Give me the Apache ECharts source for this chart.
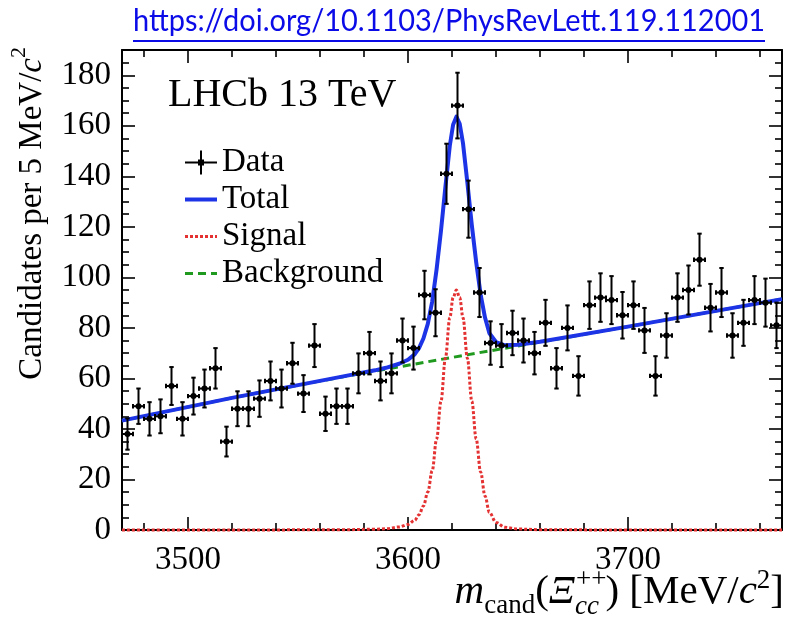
<!DOCTYPE html>
<html><head><meta charset="utf-8">
<script src="https://cdn.jsdelivr.net/npm/echarts@6/dist/echarts.min.js"></script>
<style>html,body{margin:0;padding:0;background:#fff}#c{width:794px;height:619px}</style>
</head><body><div id="c"></div>
<script>
// ---------- data ----------
const binCenters = [3472.5,3477.5,3482.5,3487.5,3492.5,3497.5,3502.5,3507.5,3512.5,3517.5,
  3522.5,3527.5,3532.5,3537.5,3542.5,3547.5,3552.5,3557.5,3562.5,3567.5,
  3572.5,3577.5,3582.5,3587.5,3592.5,3597.5,3602.5,3607.5,3612.5,3617.5,
  3622.5,3627.5,3632.5,3637.5,3642.5,3647.5,3652.5,3657.5,3662.5,3667.5,
  3672.5,3677.5,3682.5,3687.5,3692.5,3697.5,3702.5,3707.5,3712.5,3717.5,
  3722.5,3727.5,3732.5,3737.5,3742.5,3747.5,3752.5,3757.5,3762.5,3767.5];
const counts = [38,49,44,45,57,44,53,56,64,35,
  48,48,52,59,56,66,54,73,46,49,
  49,62,70,59,62,75,72,93,86,141,
  168,127,94,74,73,78,75,70,82,64,
  80,61,89,92,91,85,89,79,61,77,
  92,95,107,88,94,77,82,91,90,81];
const errors = [6.2,7,6.6,6.7,7.5,6.6,7.3,7.5,8,5.9,
  6.9,6.9,7.2,7.7,7.5,8.1,7.3,8.5,6.8,7,
  7,7.9,8.4,7.7,7.9,8.7,8.5,9.6,9.3,11.9,
  13,11.3,9.7,8.6,8.5,8.8,8.7,8.4,9.1,8,
  8.9,7.8,9.4,9.6,9.5,9.2,9.4,8.9,7.8,8.8,
  9.6,9.7,10.3,9.4,9.7,8.8,9.1,9.5,9.5,9];
const BIN_HALF = 2.5;
const curveX  = [3470,3520,3570,3585,3590,3596,3600,3603,3605,3607,3609,3611,3613,3615,3617,3619,3620.5,3622,3623.5,3625,3627,3629,3631,3633,3635,3637,3640,3644,3650,3660,3700,3770];
const totalY  = [43.3,52.3,60.7,63.2,64.2,65.8,67.4,69.5,72.0,75.8,81.6,90.4,103.2,118.5,135.8,152.1,160.4,163.6,160.8,153.1,137.4,120.7,106.0,93.3,84.1,77.9,74.4,73.1,73.3,74.5,80.5,91.4];
const signalY = [0,0,0.1,0.3,0.5,1.2,2.2,3.8,6,9.5,15,23.5,36,51,68,84,92,95,92,84,68,51,36,23,13.5,7,3,1.1,0.4,0.1,0,0];
const bkgX = [3470,3520,3570,3620,3670,3720,3770];
const bkgY = [43.3,52.3,60.6,68.3,75.9,83.6,91.4];
const xMajorTicks = [3500,3600,3700];
const xMinorTicks = [3480,3520,3540,3560,3580,3620,3640,3660,3680,3720,3740,3760];
const yMajorTicks = [0,20,40,60,80,100,120,140,160,180];
const yMinorTicks = [5,10,15,25,30,35,45,50,55,65,70,75,85,90,95,105,110,115,125,130,135,145,150,155,165,170,175,185];
const legendNames = ['Data','Total','Signal','Background'];

// ---------- styling ----------
const SERIF = '"Liberation Serif","Times New Roman",serif';
const BLUE = '#1c34e6', RED = '#e43232', GREEN = '#1f9a1f', LINK = '#0b0be8';
const zip = (a, b) => a.map((v, i) => [v, b[i]]);

const ctx = document.createElement('canvas').getContext('2d');
function tw(font, s) { ctx.font = font; return ctx.measureText(s).width; }
function fontStr(size, italic) { return (italic ? 'italic ' : '') + size + 'px ' + SERIF; }

const graphics = [];
// link
(function () {
  const txt = 'https://doi.org/10.1103/PhysRevLett.119.112001';
  const fnt = '30px Lato, "Open Sans", sans-serif';
  const w = tw(fnt, txt);
  const sx = 632 / w;
  graphics.push({type:'text', x:449, y:21, scaleX:sx, originX:0, originY:0,
    style:{text:txt, font:fnt, fill:LINK, align:'center', verticalAlign:'middle', textAlign:'center', textVerticalAlign:'middle'}});
  graphics.push({type:'line', shape:{x1:133, y1:41, x2:765, y2:41}, style:{stroke:LINK, lineWidth:2}});
})();
// LHCb label
graphics.push({type:'text', x:168, y:95, style:{text:'LHCb 13 TeV', font:fontStr(40,false), fill:'#000', align:'left', verticalAlign:'middle', textAlign:'left', textVerticalAlign:'middle'}});

// x title pieces
(function () {
  const F = 41, f = 27, B = 605;
  const pieces = [
    {t:'m', it:true, s:F, dy:0},
    {t:'cand', s:f, dy:9},
    {t:'(', s:F, dy:0},
    {t:'\u039E', it:true, s:F, dy:0},
    {t:'cc', it:true, s:f, dy:10, top:'++'},
    {t:')', s:F, dy:0},
    {t:' [MeV/', s:F, dy:0},
    {t:'c', it:true, s:F, dy:0},
    {t:'2', s:f, dy:-16},
    {t:']', s:F, dy:0}
  ];
  pieces.forEach(p => {
    p.w = tw(fontStr(p.s, p.it), p.t);
    if (p.top) p.w = Math.max(p.w, tw(fontStr(p.s, false), p.top));
  });
  const total = pieces.reduce((a, p) => a + p.w, 0);
  let x = 784 - total;
  pieces.forEach(p => {
    graphics.push({type:'text', x:x, y:B + p.dy - 0.3 * p.s,
      style:{text:p.t, font:fontStr(p.s, p.it), fill:'#000', align:'left', verticalAlign:'middle', textAlign:'left', textVerticalAlign:'middle'}});
    if (p.top) {
      graphics.push({type:'text', x:x + 1, y:B - 17 - 0.3 * p.s,
        style:{text:p.top, font:fontStr(p.s, false), fill:'#000', align:'left', verticalAlign:'middle', textAlign:'left', textVerticalAlign:'middle'}});
    }
    x += p.w;
  });
})();

// y title pieces (rotated)
(function () {
  const F = 33, f = 22, xc = 32, yTop = 47;
  const pieces = [
    {t:'Candidates per 5 MeV/', s:F, up:0},
    {t:'c', it:true, s:F, up:0},
    {t:'2', s:f, up:13}
  ];
  pieces.forEach(p => { p.w = tw(fontStr(p.s, p.it), p.t); });
  const total = pieces.reduce((a, p) => a + p.w, 0);
  let d = 0;
  const y0 = yTop + total;
  pieces.forEach(p => {
    graphics.push({type:'text', x:xc - p.up, y:y0 - d, rotation:Math.PI / 2,
      style:{text:p.t, font:fontStr(p.s, p.it), fill:'#000', align:'left', verticalAlign:'middle', textAlign:'left', textVerticalAlign:'middle'}});
    d += p.w;
  });
})();

// ---------- axes ----------
const labelStyle = {color:'#000', fontFamily:SERIF, fontSize:33, formatter:function (v) { return String(v); }};
function xAxisDef(pos, ticks, len, labels, line) {
  return {type:'value', min:3470, max:3770, position:pos, gridIndex:0,
    axisLine:{show:line, onZero:false, lineStyle:{color:'#000', width:2}},
    axisTick:{show:true, inside:true, length:len, customValues:ticks, lineStyle:{color:'#000', width:1.6}},
    axisLabel:labels ? Object.assign({show:true, customValues:ticks, margin:14}, labelStyle) : {show:false},
    splitLine:{show:false}, minorTick:{show:false}};
}
function yAxisDef(pos, ticks, len, labels, line) {
  return {type:'value', min:0, max:190, position:pos, gridIndex:0,
    axisLine:{show:line, onZero:false, lineStyle:{color:'#000', width:2}},
    axisTick:{show:true, inside:true, length:len, customValues:ticks, lineStyle:{color:'#000', width:1.6}},
    axisLabel:labels ? Object.assign({show:true, customValues:ticks, margin:11}, labelStyle) : {show:false},
    splitLine:{show:false}, minorTick:{show:false}};
}

const dataPoints = binCenters.map((x, i) => [x, counts[i], errors[i]]);
const hiddenSymbol = {color:'rgba(0,0,0,0)', borderColor:'rgba(0,0,0,0)', borderWidth:0};

const option = {
  animation:false,
  backgroundColor:'#fff',
  grid:{left:122, top:50, width:660, height:480, containLabel:false},
  xAxis:[
    xAxisDef('bottom', xMajorTicks, 13, true, true),
    xAxisDef('bottom', xMinorTicks, 7, false, false),
    xAxisDef('top', xMajorTicks, 13, false, true),
    xAxisDef('top', xMinorTicks, 7, false, false)
  ],
  yAxis:[
    yAxisDef('left', yMajorTicks, 13, true, true),
    yAxisDef('left', yMinorTicks, 7, false, false),
    yAxisDef('right', yMajorTicks, 13, false, true),
    yAxisDef('right', yMinorTicks, 7, false, false)
  ],
  legend:{
    orient:'vertical', left:178, top:141, itemWidth:32, itemHeight:24, itemGap:4,
    textStyle:{color:'#000', fontFamily:SERIF, fontSize:33},
    lineStyle:{width:'inherit'},
    data:[
      {name:legendNames[0], icon:'path://M0,11L32,11L32,13L0,13Z M15,0L17,0L17,24L15,24Z M13,9L19,9L19,15L13,15Z'},
      {name:legendNames[1], itemStyle:hiddenSymbol},
      {name:legendNames[2], itemStyle:hiddenSymbol},
      {name:legendNames[3], itemStyle:hiddenSymbol}
    ]
  },
  graphic:graphics,
  series:[
    {name:legendNames[3], type:'line', xAxisIndex:0, yAxisIndex:0, data:zip(bkgX, bkgY),
      smooth:false, symbol:'none', z:2, color:GREEN,
      lineStyle:{color:GREEN, width:3, type:[8,5]}},
    {name:legendNames[1], type:'line', xAxisIndex:0, yAxisIndex:0, data:zip(curveX, totalY),
      smooth:false, symbol:'none', z:3, color:BLUE,
      lineStyle:{color:BLUE, width:4, join:'round'}},
    {name:legendNames[2], type:'line', xAxisIndex:0, yAxisIndex:0, data:zip(curveX, signalY),
      smooth:0.35, smoothMonotone:'x', symbol:'none', z:4, color:RED, clip:false,
      lineStyle:{color:RED, width:3, type:[3,2]}},
    {name:legendNames[0], type:'custom', xAxisIndex:0, yAxisIndex:0, z:6,
      itemStyle:{color:'#000'},
      data:dataPoints,
      encode:{x:0, y:1},
      renderItem:function (params, api) {
        const x = api.value(0), y = api.value(1), e = api.value(2);
        const c = api.coord([x, y]);
        const t = api.coord([x, y + e]);
        const b = api.coord([x, y - e]);
        const l = api.coord([x - BIN_HALF, y]);
        const r = api.coord([x + BIN_HALF, y]);
        const st = {stroke:'#000', lineWidth:2};
        const cap = 2.2;
        return {type:'group', children:[
          {type:'line', shape:{x1:c[0], y1:t[1], x2:c[0], y2:b[1]}, style:st},
          {type:'line', shape:{x1:l[0], y1:c[1], x2:r[0], y2:c[1]}, style:st},
          {type:'line', shape:{x1:c[0]-cap, y1:t[1], x2:c[0]+cap, y2:t[1]}, style:st},
          {type:'line', shape:{x1:c[0]-cap, y1:b[1], x2:c[0]+cap, y2:b[1]}, style:st},
          {type:'line', shape:{x1:l[0], y1:c[1]-cap, x2:l[0], y2:c[1]+cap}, style:st},
          {type:'line', shape:{x1:r[0], y1:c[1]-cap, x2:r[0], y2:c[1]+cap}, style:st},
          {type:'circle', shape:{cx:c[0], cy:c[1], r:3}, style:{fill:'#000'}}
        ]};
      }
    }
  ]
};
const chart = echarts.init(document.getElementById('c'), null, {renderer:'canvas'});
chart.setOption(option);
</script>
</body></html>
